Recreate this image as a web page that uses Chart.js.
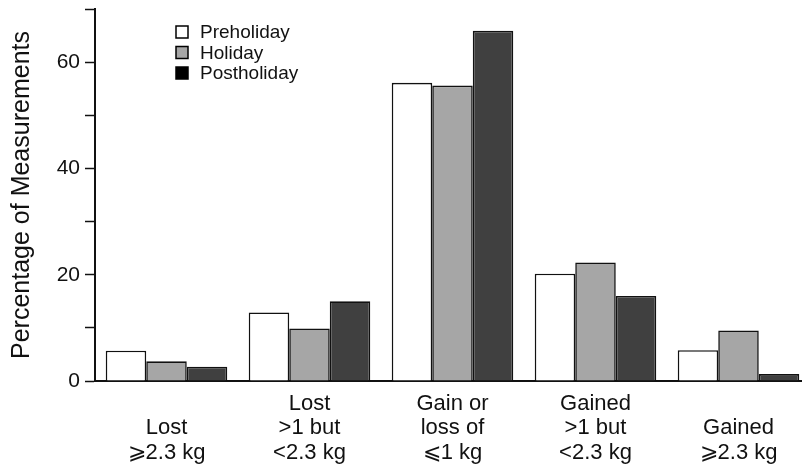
<!DOCTYPE html>
<html>
<head>
<meta charset="utf-8">
<script src="https://cdn.jsdelivr.net/npm/chart.js@4.4.1/dist/chart.umd.min.js"></script>
<style>
  html, body { margin: 0; padding: 0; background: #fff; overflow: hidden; }
  #wrap { width: 812px; height: 465px; }
</style>
</head>
<body>
<div id="wrap"><canvas id="myChart" width="812" height="465"></canvas></div>
<script>
  const categories = [
    ['', 'Lost', '⩾2.3 kg'],
    ['Lost', '>1 but', '<2.3 kg'],
    ['Gain or', 'loss of', '⩽1 kg'],
    ['Gained', '>1 but', '<2.3 kg'],
    ['', 'Gained', '⩾2.3 kg']
  ];
  const seriesNames = ['Preholiday', 'Holiday', 'Postholiday'];
  const preholiday = [5.7, 12.9, 56.1, 20.2, 5.8];
  const holiday = [3.7, 9.9, 55.6, 22.3, 9.5];
  const postholiday = [2.7, 15.0, 65.9, 16.0, 1.3];
  const barColors = ['#ffffff', '#a6a6a6', '#404040'];
  const legendColors = ['#ffffff', '#a6a6a6', '#000000'];

  Chart.defaults.color = '#111';
  Chart.defaults.font.family = '"Liberation Sans", Arial, Helvetica, sans-serif';

  // little legend top-left inside the plot, like the printed figure
  const boxLegend = {
    id: 'boxLegend',
    afterDraw(chart) {
      const c = chart.ctx;
      c.save();
      c.font = '19px "Liberation Sans", Arial, sans-serif';
      c.textBaseline = 'middle';
      chart.data.datasets.forEach((ds, i) => {
        const y = 32 + i * 20.5;
        c.fillStyle = legendColors[i];
        c.fillRect(176, y - 6, 12, 12);
        c.lineWidth = 1.5;
        c.strokeStyle = '#000';
        c.strokeRect(176, y - 6, 12, 12);
        c.fillStyle = '#111';
        c.fillText(ds.label, 200, y + 1);
      });
      c.restore();
    }
  };

  const ctx = document.getElementById('myChart');
  new Chart(ctx, {
    type: 'bar',
    data: {
      labels: categories,
      datasets: [
        { label: seriesNames[0], data: preholiday, backgroundColor: barColors[0] },
        { label: seriesNames[1], data: holiday, backgroundColor: barColors[1] },
        { label: seriesNames[2], data: postholiday, backgroundColor: barColors[2] }
      ]
    },
    options: {
      responsive: false,
      animation: false,
      layout: { padding: { top: 9, right: 2, left: 0, bottom: 0 } },
      datasets: {
        bar: {
          borderColor: '#111',
          borderWidth: 1.6,
          categoryPercentage: 0.85,
          barPercentage: 1.0
        }
      },
      plugins: {
        legend: { display: false },
        tooltip: { enabled: false }
      },
      scales: {
        x: {
          grid: { display: false, drawTicks: false },
          border: { display: true, color: '#111', width: 2 },
          ticks: {
            font: { size: 22, lineHeight: 1.1 },
            padding: 11,
            maxRotation: 0,
            autoSkip: false
          },
          afterFit(scale) { scale.height = 84; }
        },
        y: {
          min: 0,
          max: 70,
          grid: { drawOnChartArea: false, drawTicks: true, tickLength: 10, color: '#111', tickWidth: 1.5 },
          border: { display: true, color: '#111', width: 2 },
          ticks: {
            stepSize: 10,
            padding: 5,
            font: { size: 21 },
            callback: (v) => (v % 20 === 0 ? v : '')
          },
          title: {
            display: true,
            text: 'Percentage of Measurements',
            font: { size: 25 },
            padding: { top: 7, bottom: 0 }
          },
          afterFit(scale) {
            scale.width = 95;
            scale.paddingTop = 0;
            scale.paddingBottom = 0;
          }
        }
      }
    },
    plugins: [boxLegend]
  });
</script>
</body>
</html>
